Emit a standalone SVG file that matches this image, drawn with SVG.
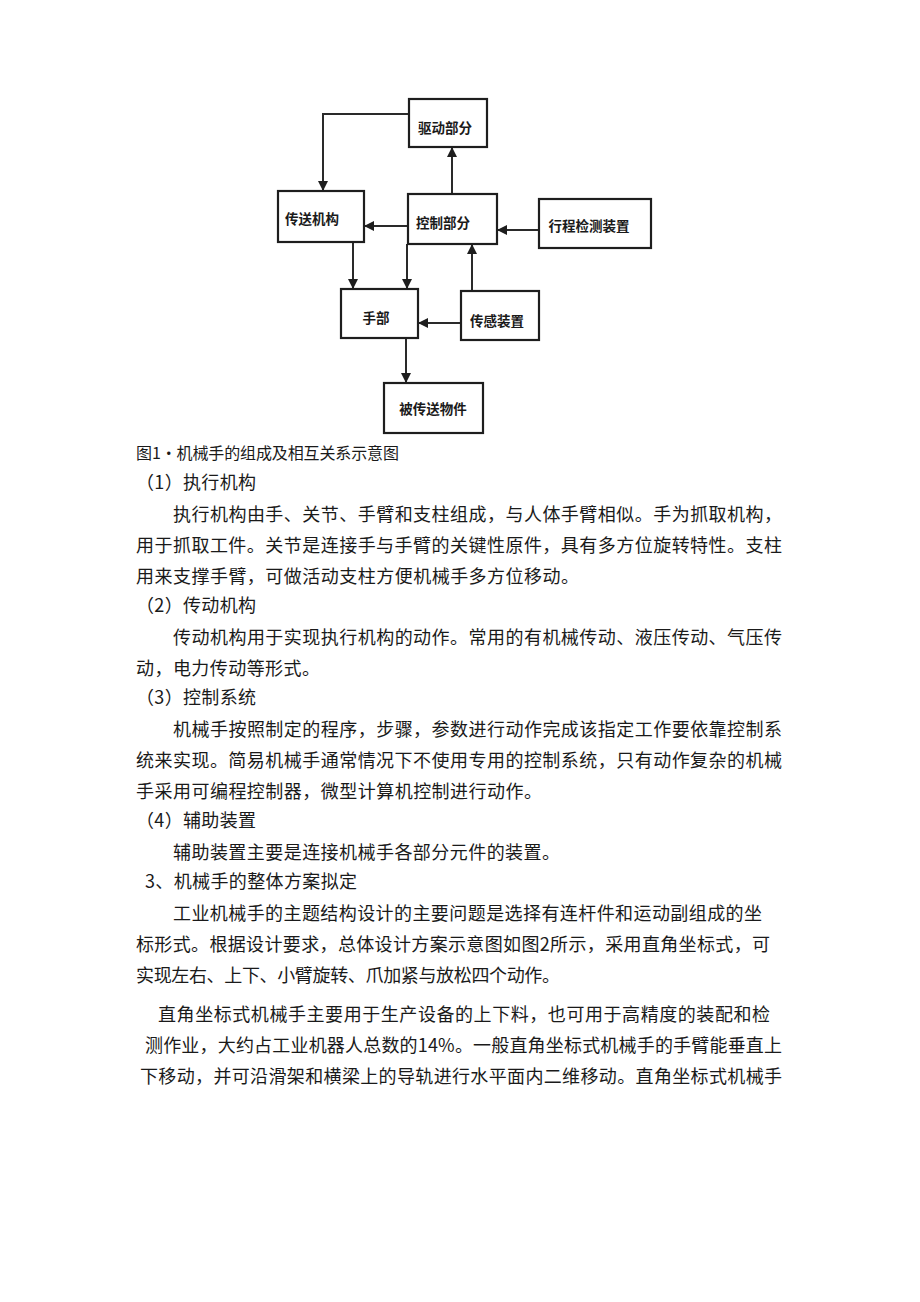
<svg xmlns="http://www.w3.org/2000/svg" width="920" height="1302" viewBox="0 0 920 1302">
<style>
.box{fill:#fff;stroke:#1e1e1e;stroke-width:2.2}
.lbl{font-family:"Noto Sans CJK SC",sans-serif;font-size:13.5px;font-weight:bold;fill:#1a1a1a;text-anchor:middle;dominant-baseline:central}
.con{fill:none;stroke:#2a2a2a;stroke-width:2}
.t{font-family:"Noto Sans CJK SC",sans-serif;font-size:18px;fill:#1a1a1a}
.cap{font-family:"Noto Sans CJK SC",sans-serif;font-size:16px;fill:#1a1a1a}
</style>
<defs>
<marker id="ah" viewBox="0 0 10 10" refX="10" refY="5" markerWidth="5" markerHeight="5" orient="auto" markerUnits="strokeWidth">
<path d="M0,0 L10,5 L0,10 Z" fill="#1e1e1e"/>
</marker>
</defs>
<rect width="920" height="1302" fill="#fff"/>
<g id="connectors">
<path class="con" d="M409,114 H323 V191" marker-end="url(#ah)"/>
<path class="con" d="M452,194 V147" marker-end="url(#ah)"/>
<path class="con" d="M408,226 H364" marker-end="url(#ah)"/>
<path class="con" d="M539,230 H497" marker-end="url(#ah)"/>
<path class="con" d="M353,242 V289" marker-end="url(#ah)"/>
<path class="con" d="M407,244 V289" marker-end="url(#ah)"/>
<path class="con" d="M472,291 V244" marker-end="url(#ah)"/>
<path class="con" d="M461,323 H418" marker-end="url(#ah)"/>
<path class="con" d="M406,338 V383" marker-end="url(#ah)"/>
</g>
<g id="drive"><rect class="box" x="409" y="99" width="78" height="48"/><text class="lbl" x="445" y="127">驱动部分</text></g>
<g id="transfer"><rect class="box" x="278" y="191" width="86" height="51"/><text class="lbl" x="312" y="218">传送机构</text></g>
<g id="control"><rect class="box" x="408" y="194" width="89" height="50"/><text class="lbl" x="443" y="222">控制部分</text></g>
<g id="stroke-detect"><rect class="box" x="539" y="199" width="112" height="49"/><text class="lbl" x="589" y="225">行程检测装置</text></g>
<g id="hand"><rect class="box" x="341" y="289" width="77" height="49"/><text class="lbl" x="376" y="317">手部</text></g>
<g id="sensor"><rect class="box" x="461" y="291" width="78" height="49"/><text class="lbl" x="497" y="320">传感装置</text></g>
<g id="object"><rect class="box" x="384" y="383" width="99" height="50"/><text class="lbl" x="433" y="408">被传送物件</text></g>
<g id="body">
<text class="cap" x="136" y="459" textLength="263" lengthAdjust="spacing">图1•机械手的组成及相互关系示意图</text>
<text class="t" x="136" y="489" textLength="120" lengthAdjust="spacing">（1）执行机构</text>
<text class="t" x="173" y="521" textLength="609" lengthAdjust="spacing">执行机构由手、关节、手臂和支柱组成，与人体手臂相似。手为抓取机构，</text>
<text class="t" x="136" y="552" textLength="646" lengthAdjust="spacing">用于抓取工件。关节是连接手与手臂的关键性原件，具有多方位旋转特性。支柱</text>
<text class="t" x="136" y="583" textLength="443" lengthAdjust="spacing">用来支撑手臂，可做活动支柱方便机械手多方位移动。</text>
<text class="t" x="136" y="612" textLength="120" lengthAdjust="spacing">（2）传动机构</text>
<text class="t" x="173" y="644" textLength="609" lengthAdjust="spacing">传动机构用于实现执行机构的动作。常用的有机械传动、液压传动、气压传</text>
<text class="t" x="136" y="675" textLength="184" lengthAdjust="spacing">动，电力传动等形式。</text>
<text class="t" x="136" y="704" textLength="120" lengthAdjust="spacing">（3）控制系统</text>
<text class="t" x="173" y="736" textLength="609" lengthAdjust="spacing">机械手按照制定的程序，步骤，参数进行动作完成该指定工作要依靠控制系</text>
<text class="t" x="136" y="767" textLength="646" lengthAdjust="spacing">统来实现。简易机械手通常情况下不使用专用的控制系统，只有动作复杂的机械</text>
<text class="t" x="136" y="798" textLength="406" lengthAdjust="spacing">手采用可编程控制器，微型计算机控制进行动作。</text>
<text class="t" x="136" y="827" textLength="120" lengthAdjust="spacing">（4）辅助装置</text>
<text class="t" x="173" y="859" textLength="387" lengthAdjust="spacing">辅助装置主要是连接机械手各部分元件的装置。</text>
<text class="t" x="145" y="888" textLength="212" lengthAdjust="spacing">3、机械手的整体方案拟定</text>
<text class="t" x="173" y="920" textLength="589" lengthAdjust="spacing">工业机械手的主题结构设计的主要问题是选择有连杆件和运动副组成的坐</text>
<text class="t" x="136" y="951" textLength="634" lengthAdjust="spacing">标形式。根据设计要求，总体设计方案示意图如图2所示，采用直角坐标式，可</text>
<text class="t" x="136" y="982" textLength="424" lengthAdjust="spacing">实现左右、上下、小臂旋转、爪加紧与放松四个动作。</text>
<text class="t" x="158" y="1021" textLength="612" lengthAdjust="spacing">直角坐标式机械手主要用于生产设备的上下料，也可用于高精度的装配和检</text>
<text class="t" x="145" y="1052" textLength="637" lengthAdjust="spacing">测作业，大约占工业机器人总数的14%。一般直角坐标式机械手的手臂能垂直上</text>
<text class="t" x="140" y="1083" textLength="642" lengthAdjust="spacing">下移动，并可沿滑架和横梁上的导轨进行水平面内二维移动。直角坐标式机械手</text>
</g>
</svg>
